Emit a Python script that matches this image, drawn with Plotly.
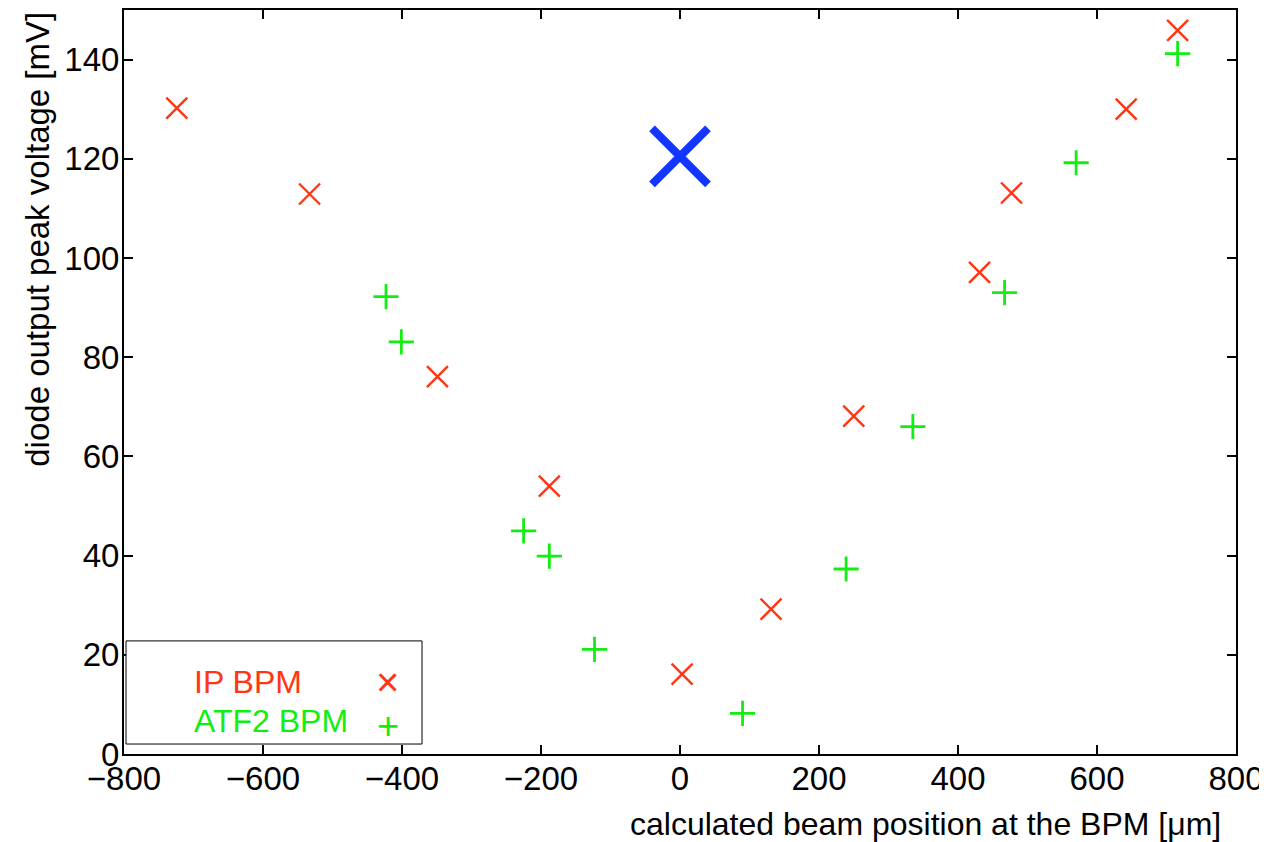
import plotly.graph_objects as go

# IP BPM readings (red x)
ip_x = [-724, -533, -349, -188, 3, 131, 250, 431, 477, 642, 716]
ip_y = [130.2, 112.9, 76.1, 54.0, 16.1, 29.2, 68.1, 97.1, 113.1, 130.0, 145.9]

# ATF2 BPM readings (green +)
atf2_x = [-423, -401, -225, -188, -123, 90, 239, 335, 467, 570, 716]
atf2_y = [92.2, 83.1, 45.0, 39.9, 21.1, 8.2, 37.3, 66.0, 93.0, 119.2, 141.2]

# big blue marker
center_x = [0]
center_y = [120.5]

x_ticks = list(range(-800, 801, 200))
y_ticks = list(range(0, 141, 20))

RED = '#FF3614'
GREEN = '#12EE12'
BLUE = '#1236FF'
FONT = 'Liberation Sans, Arial, Helvetica, sans-serif'

fig = go.Figure()

fig.add_trace(go.Scatter(
    x=ip_x, y=ip_y, mode='markers', name='IP BPM',
    marker=dict(symbol='x-thin-open', size=21, color=RED,
                line=dict(color=RED, width=2.4)),
))
fig.add_trace(go.Scatter(
    x=atf2_x, y=atf2_y, mode='markers', name='ATF2 BPM',
    marker=dict(symbol='cross-thin-open', size=18, color=GREEN,
                line=dict(color=GREEN, width=2.8)),
))
fig.add_trace(go.Scatter(
    x=center_x, y=center_y, mode='markers', name='center',
    marker=dict(symbol='x-thin-open', size=56, color=BLUE,
                line=dict(color=BLUE, width=8)),
))

axis_style = dict(
    showline=True, linecolor='black', linewidth=2, mirror='allticks',
    ticks='inside', ticklen=9, tickwidth=2, tickcolor='black',
    showgrid=False, zeroline=False, automargin=False,
    tickfont=dict(family=FONT, size=33, color='black'),
)

fig.update_xaxes(range=[-800, 800], tickvals=x_ticks, ticklabelstandoff=-6, **axis_style)
fig.update_yaxes(range=[0, 150], tickvals=y_ticks, ticklabelstandoff=-4, **axis_style)

# custom legend: text on the left, symbol on the right
fig.add_shape(type='rect', xref='paper', yref='paper',
              x0=0.0018, x1=0.268, y0=0.0134, y1=0.152,
              line=dict(color='black', width=1), fillcolor='white')

annotations = [
    dict(text='IP BPM', x=0.0612, y=0.0968, font=dict(color=RED, size=32),
         xanchor='left', yanchor='middle'),
    dict(text='ATF2 BPM', x=0.0612, y=0.0444, font=dict(color=GREEN, size=32),
         xanchor='left', yanchor='middle'),
    dict(text='\u00d7', x=0.2374, y=0.0968, font=dict(color=RED, size=40),
         xanchor='center', yanchor='middle'),
    dict(text='+', x=0.2374, y=0.0376, font=dict(color=GREEN, size=38),
         xanchor='center', yanchor='middle'),
    # axis titles
    dict(text='calculated beam position at the BPM [\u03bcm]', x=0.988, y=-0.094,
         font=dict(color='black', size=32), xanchor='right', yanchor='middle'),
    dict(text='diode output peak voltage [mV]', x=-0.078, y=1.0,
         textangle=-90, font=dict(color='black', size=33),
         xanchor='center', yanchor='top'),
]
for a in annotations:
    a.update(xref='paper', yref='paper', showarrow=False)
    a['font']['family'] = FONT
fig.update_layout(annotations=annotations)

# page body has an 8px margin, so the figure is shifted; compensate here
fig.update_layout(
    width=1259, height=834,
    margin=dict(l=116, r=31, t=2, b=88),
    plot_bgcolor='white', paper_bgcolor='white',
    showlegend=False,
    font=dict(family=FONT, color='black'),
)

fig.write_html("out.html")
